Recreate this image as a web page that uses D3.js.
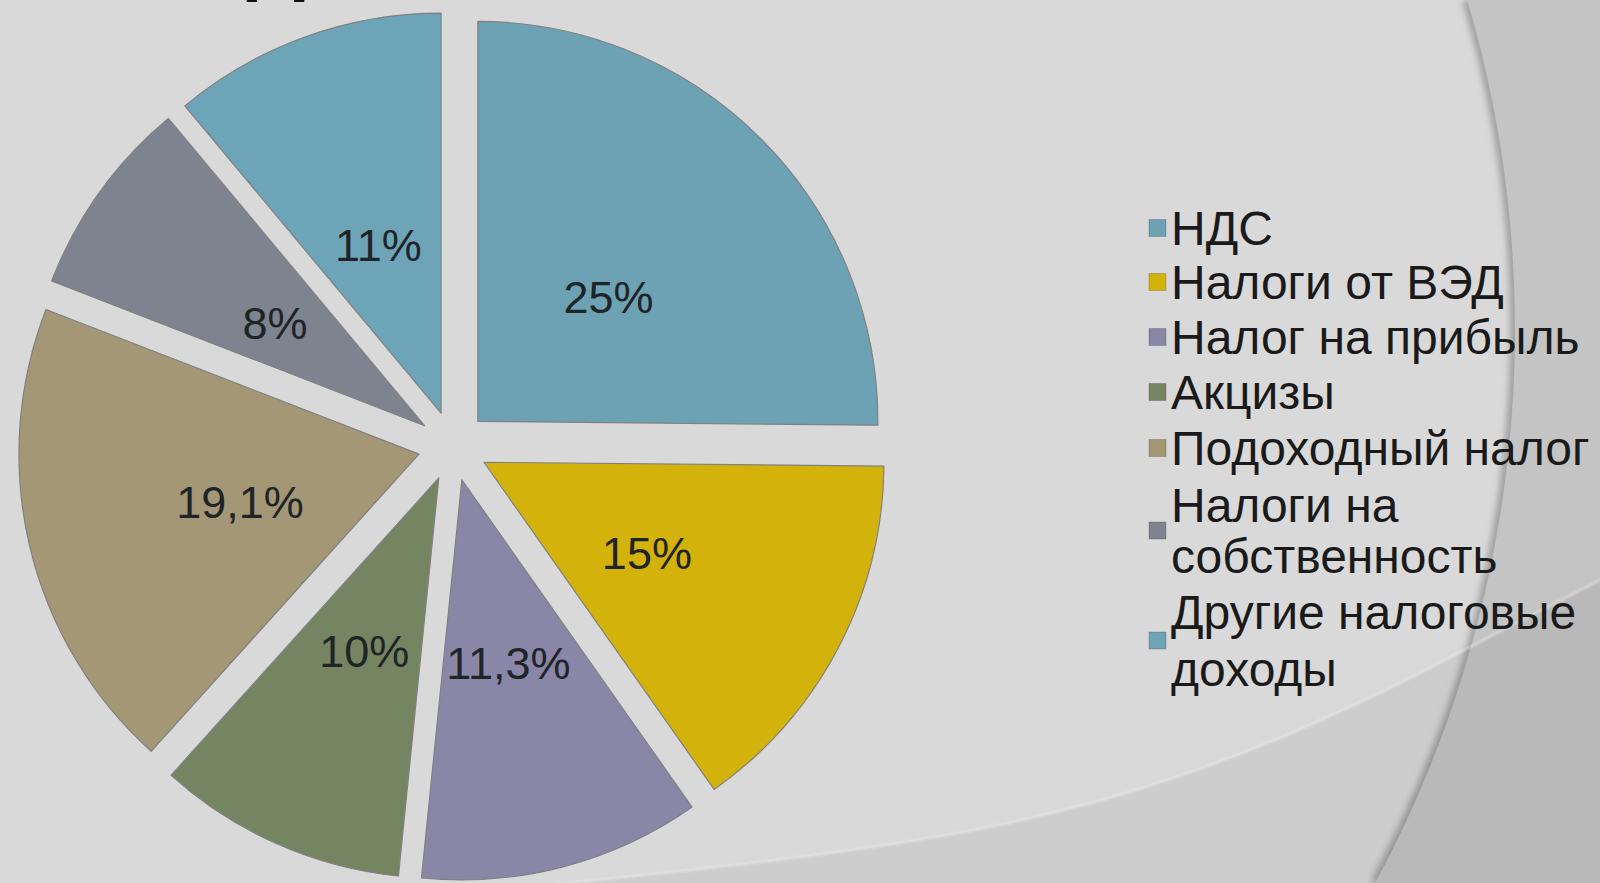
<!DOCTYPE html>
<html>
<head>
<meta charset="utf-8">
<script src="https://cdn.jsdelivr.net/npm/d3@7"></script>
<style>
  html, body { margin: 0; padding: 0; background: #d9d9d9; overflow: hidden; }
  svg { display: block; }
</style>
</head>
<body>
<script>
// Структура налоговых доходов: доли по видам налогов, %
const categories = [
  "НДС",
  "Налоги от ВЭД",
  "Налог на прибыль",
  "Акцизы",
  "Подоходный налог",
  "Налоги на собственность",
  "Другие налоговые доходы"
];
const legendLines = [
  ["НДС"],
  ["Налоги от ВЭД"],
  ["Налог на прибыль"],
  ["Акцизы"],
  ["Подоходный налог"],
  ["Налоги на", "собственность"],
  ["Другие налоговые", "доходы"]
];
const shares = [25, 15, 11.3, 10, 19.1, 8, 11];
const sliceColors = ["#6ca2b4", "#d4b20c", "#8a86a8", "#758562", "#a39776", "#7e838f", "#6da4b7"];
const titleFragment = "Д";

const W = 1600, H = 883;
const svg = d3.select("body").append("svg")
  .attr("width", W).attr("height", H)
  .attr("viewBox", `0 0 ${W} ${H}`);

const defs = svg.append("defs");
defs.append("filter").attr("id", "soft").attr("x", "-5%").attr("y", "-5%").attr("width", "110%").attr("height", "110%")
  .append("feGaussianBlur").attr("stdDeviation", 3.5);
defs.append("filter").attr("id", "softer").attr("x", "-5%").attr("y", "-5%").attr("width", "110%").attr("height", "110%")
  .append("feGaussianBlur").attr("stdDeviation", 1.2);

// ---- slide background ----
const bg = svg.append("g");
bg.append("rect").attr("width", W).attr("height", H).attr("fill", "#d9d9d9");

// big sweeping arc on the right
const arcC = { x: 351, y: 330, r: 1164 };
const xAt = y => arcC.x + Math.sqrt(arcC.r * arcC.r - (y - arcC.y) * (y - arcC.y));
const topX = xAt(0), botX = xAt(H);
const arcEdge = `M${topX},0 A${arcC.r},${arcC.r} 0 0 1 ${botX},${H}`;
bg.append("path").attr("d", arcEdge).attr("fill", "none")
  .attr("stroke", "#9a9a9a").attr("stroke-width", 9).attr("filter", "url(#soft)");
bg.append("path").attr("d", `${arcEdge} L${W},${H} L${W},0 Z`).attr("fill", "#c4c4c4");

// lower swoosh
const swooshPts = [[540, 886], [1000, 825], [1306, 727], [1478, 643], [1604, 578]];
const swooshLine = d3.line().curve(d3.curveNatural);
const swoosh = swooshLine(swooshPts);
bg.append("path").attr("d", swoosh + ` L1604,${H + 4} L540,${H + 4} Z`)
  .attr("fill", "#000").attr("fill-opacity", 0.055);
bg.append("path").attr("d", swoosh).attr("fill", "none")
  .attr("stroke", "#f0f0f0").attr("stroke-opacity", 0.55).attr("stroke-width", 2)
  .attr("filter", "url(#softer)");

// title descending past the top edge
const title = svg.append("text")
  .attr("x", 0).attr("y", -15)
  .attr("font-family", "'Liberation Sans', Arial, sans-serif")
  .attr("font-weight", "bold").attr("font-size", 84)
  .attr("fill", "#111")
  .text(titleFragment);
const tw = title.node().getComputedTextLength();
title.attr("x", 276 - tw / 2);

// ---- exploded pie ----
const cx = 453, cy = 446, R = 400, explode = 35, labelR = 184;
const data = categories.map((c, i) => ({ name: c, value: shares[i], color: sliceColors[i] }));
const pie = d3.pie().sort(null).value(d => d.value);
const arc = d3.arc().innerRadius(0).outerRadius(R);
const offsetArc = d3.arc().innerRadius(explode).outerRadius(explode);
const labelArc = d3.arc().innerRadius(labelR).outerRadius(labelR);
const fmt = v => String(v).replace(".", ",") + "%";

const pieG = svg.append("g").attr("transform", `translate(${cx},${cy})`);
const slices = pieG.selectAll("g.slice").data(pie(data)).join("g")
  .attr("class", "slice")
  .attr("transform", d => { const [ox, oy] = offsetArc.centroid(d); return `translate(${ox},${oy})`; });

slices.append("path")
  .attr("d", arc)
  .attr("fill", d => d.data.color)
  .attr("stroke", "#808080").attr("stroke-width", 1.2).attr("stroke-linejoin", "round");

slices.append("text")
  .attr("transform", d => { const [lx, ly] = labelArc.centroid(d); return `translate(${lx},${ly + 5})`; })
  .attr("text-anchor", "middle").attr("dy", "0.36em")
  .attr("font-family", "'Liberation Sans', Arial, sans-serif")
  .attr("font-size", 45)
  .attr("fill", "#1f2426")
  .text(d => fmt(d.data.value));

// ---- legend ----
const legend = svg.append("g").attr("font-family", "'Liberation Sans', Arial, sans-serif");
const fontSize = 48, capH = 34;
const legendBaselines = [[245], [299], [354], [409], [465], [522, 573], [629, 686]];
legendLines.forEach((lines, i) => {
  const ys = legendBaselines[i];
  const first = ys[0], last = ys[ys.length - 1];
  const mid = (first - capH + last) / 2;
  legend.append("rect")
    .attr("x", 1149).attr("y", mid - 8.5).attr("width", 17).attr("height", 17)
    .attr("fill", sliceColors[i]).attr("stroke", "#000").attr("stroke-opacity", 0.18).attr("stroke-width", 1);
  const t = legend.append("text").attr("font-size", fontSize).attr("fill", "#1a1a1a");
  lines.forEach((ln, j) => {
    t.append("tspan").attr("x", 1171).attr("y", ys[j]).text(ln);
  });
});
</script>
</body>
</html>
